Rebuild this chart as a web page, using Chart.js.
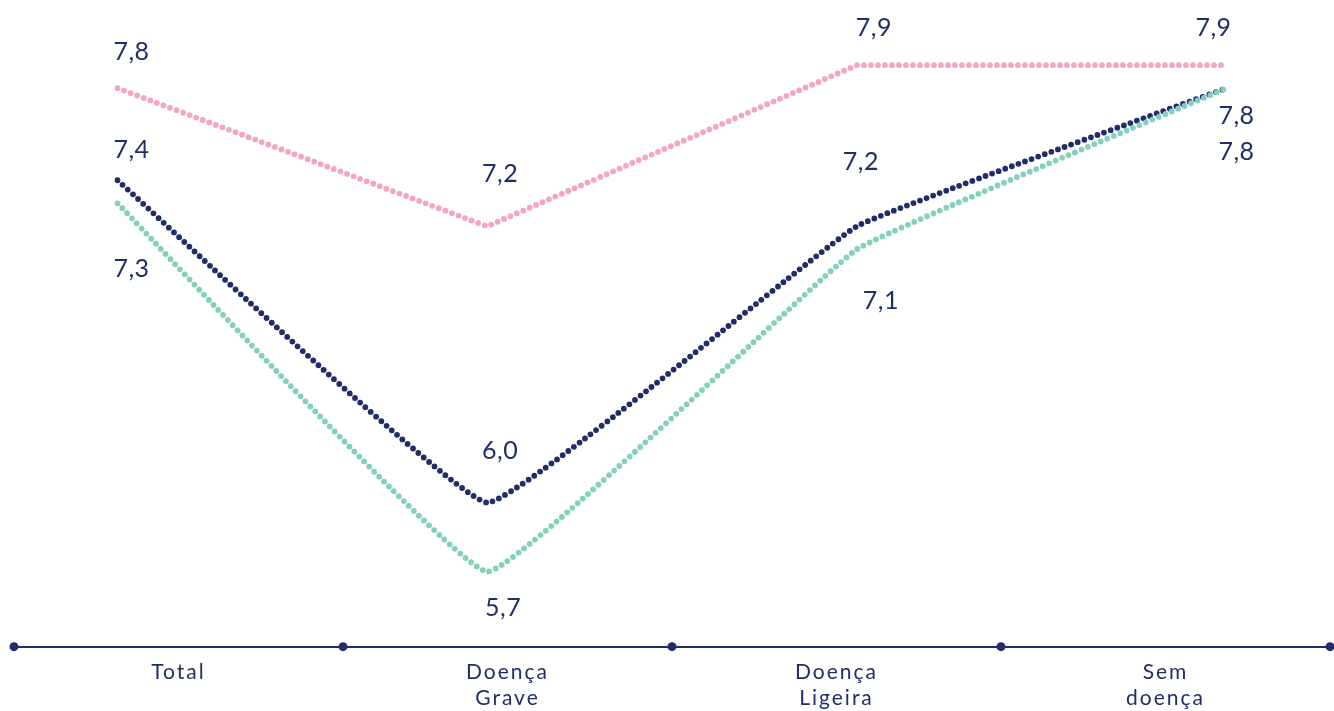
<!DOCTYPE html>
<html>
<head>
<meta charset="utf-8">
<script src="https://cdn.jsdelivr.net/npm/chart.js@4"></script>
<style>
  html, body { margin: 0; padding: 0; background: #fff; }
  #wrap { width: 1334px; height: 711px; }
</style>
</head>
<body>
<div id="wrap"><canvas id="lineChart"></canvas></div>
<script>
// categorias e séries
const categories = [['Total'], ['Doença', 'Grave'], ['Doença', 'Ligeira'], ['Sem', 'doença']];
const seriesRosa = [7.8, 7.2, 7.9, 7.9];
const seriesAzul = [7.4, 6.0, 7.2, 7.8];
const seriesVerde = [7.3, 5.7, 7.1, 7.8];

// deslocamento dos rótulos de valor (px, relativo ao ponto)
const offsetsRosa = [[14, -36], [13, -52], [17, -37], [-13, -37]];
const offsetsAzul = [[14, -30], [13, -52], [4, -64], [10, 28]];
const offsetsVerde = [[14, 66], [16, 36], [24, 52], [10, 64]];

const NAVY = '#212d69';
const ROSA = '#f4a6be';
const VERDE = '#85cfbf';
const FONT = 'Lato, "Open Sans", sans-serif';

const toPoints = (values) => values.map((v, i) => ({ x: i, y: v }));

const fmt = (v) => v.toFixed(1).replace('.', ',');

// espaçamento entre letras das etiquetas do eixo
const letterSpacing = {
    id: 'letterSpacing',
    beforeDraw(chart) {
        chart.ctx.letterSpacing = '2px';
    },
    afterDatasetsDraw(chart) {
        chart.ctx.letterSpacing = '0px';
    }
};

// rótulos com o valor de cada ponto
const valueLabels = {
    id: 'valueLabels',
    afterDatasetsDraw(chart) {
        const c = chart.ctx;
        c.save();
        c.letterSpacing = '0.5px';
        c.font = '400 25px ' + FONT;
        c.fillStyle = NAVY;
        c.textAlign = 'center';
        c.textBaseline = 'middle';
        chart.data.datasets.forEach((ds, di) => {
            const meta = chart.getDatasetMeta(di);
            meta.data.forEach((pt, i) => {
                const off = ds.labelOffsets[i];
                c.fillText(fmt(ds.data[i].y), pt.x + off[0], pt.y + off[1]);
            });
        });
        c.restore();
    }
};

// pontos sobre a linha do eixo
const axisDots = {
    id: 'axisDots',
    afterDraw(chart) {
        const a = chart.chartArea;
        const c = chart.ctx;
        const n = categories.length;
        c.save();
        c.fillStyle = NAVY;
        for (let i = 0; i <= n; i++) {
            const x = a.left + (a.right - a.left) * i / n;
            c.beginPath();
            c.arc(x, a.bottom, 4.5, 0, Math.PI * 2);
            c.fill();
        }
        c.restore();
    }
};

const makeDataset = (values, color, offsets, order, tension) => ({
    data: toPoints(values),
    xAxisID: 'xp',
    yAxisID: 'y',
    borderColor: color,
    borderWidth: 5.8,
    borderDash: [0, 7],
    borderCapStyle: 'round',
    pointRadius: 0,
    tension: tension,
    fill: false,
    order: order,
    labelOffsets: offsets
});

const ctx = document.getElementById('lineChart').getContext('2d');
new Chart(ctx, {
    type: 'line',
    data: {
        labels: categories,
        datasets: [
            makeDataset(seriesRosa, ROSA, offsetsRosa, 2, 0),
            makeDataset(seriesAzul, NAVY, offsetsAzul, 1, 0.08),
            makeDataset(seriesVerde, VERDE, offsetsVerde, 0, 0.08)
        ]
    },
    options: {
        responsive: true,
        maintainAspectRatio: false,
        animation: false,
        layout: { padding: { left: 14, right: 4, top: 0, bottom: -13 } },
        plugins: {
            legend: { display: false },
            tooltip: { enabled: false }
        },
        scales: {
            x: {
                type: 'category',
                offset: true,
                grid: { display: false, drawTicks: false },
                border: { display: true, color: NAVY, width: 2 },
                ticks: {
                    color: NAVY,
                    padding: 12,
                    font: { family: FONT, size: 21, lineHeight: 1.27 },
                    maxRotation: 0,
                    autoSkip: false
                }
            },
            xp: {
                type: 'linear',
                display: false,
                min: -0.28,
                max: 3.28
            },
            y: {
                display: false,
                min: 5.374,
                max: 8.183
            }
        }
    },
    plugins: [letterSpacing, valueLabels, axisDots]
});
</script>
</body>
</html>
